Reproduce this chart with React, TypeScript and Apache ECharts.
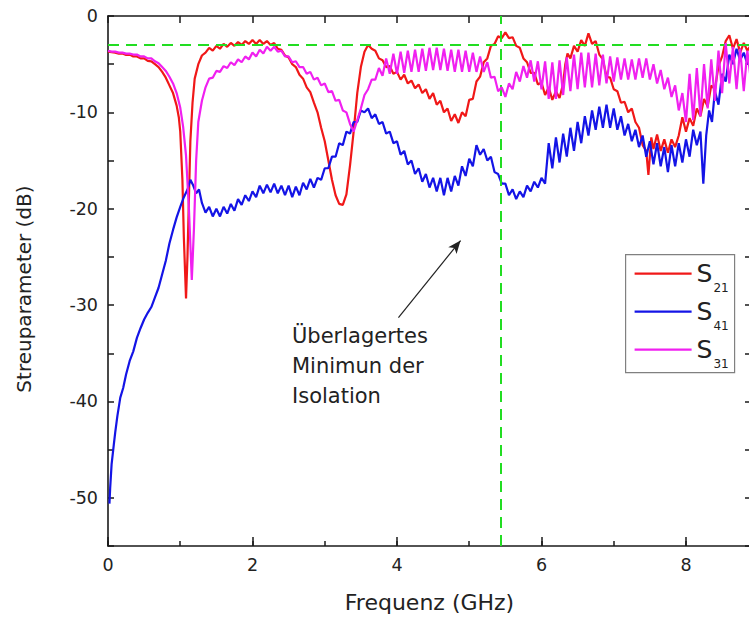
import React, { useEffect, useRef } from 'react';
import * as echarts from 'echarts';

// ---------- data ----------
const seriesNames = ['S21', 'S41', 'S31'];
const seriesSubscripts = ['21', '41', '31'];
const seriesColors = ['#f01818', '#1414e6', '#f020f0'];

// S21 (red): [frequency GHz, dB]
const s21Data: [number, number][] = [
  [0, -3.7], [0.05, -3.75], [0.1, -3.8], [0.15, -3.9], [0.2, -3.9], [0.25, -4.05], [0.3, -4.0], [0.35, -4.2], [0.4, -4.2],
  [0.45, -4.4], [0.5, -4.4], [0.55, -4.65], [0.6, -4.7], [0.65, -5.0], [0.7, -5.3], [0.75, -5.8], [0.8, -6.4], [0.85, -7.2],
  [0.9, -8.0], [0.95, -9.3], [0.98, -10.5], [1.0, -12], [1.03, -17], [1.05, -23], [1.08, -29.3], [1.1, -25], [1.12, -19],
  [1.14, -13], [1.17, -9], [1.2, -6.5], [1.25, -5], [1.3, -4.1], [1.35, -3.8], [1.4, -3.3], [1.45, -3.6], [1.5, -3.1],
  [1.55, -3.4], [1.6, -2.9], [1.65, -3.2], [1.7, -2.8], [1.75, -3.1], [1.8, -2.7], [1.85, -3.0], [1.9, -2.6], [1.95, -2.9],
  [2.0, -2.5], [2.05, -2.9], [2.1, -2.5], [2.15, -2.9], [2.2, -2.6], [2.25, -3.0], [2.3, -2.8], [2.35, -3.4], [2.4, -3.5],
  [2.45, -4.1], [2.5, -4.3], [2.55, -5.0], [2.6, -5.3], [2.65, -6.1], [2.7, -6.5], [2.75, -7.4], [2.8, -7.9], [2.85, -9.0],
  [2.9, -10], [2.95, -11.6], [3.0, -13], [3.05, -15], [3.1, -17], [3.15, -18.6], [3.2, -19.5], [3.25, -19.6], [3.3, -18.5],
  [3.35, -15.5], [3.4, -12], [3.45, -8], [3.5, -5.3], [3.55, -3.7], [3.6, -3.0], [3.65, -3.4], [3.7, -3.6], [3.75, -4.4],
  [3.8, -4.6], [3.85, -5.3], [3.9, -5.2], [3.95, -6.0], [4.0, -5.8], [4.05, -6.6], [4.1, -6.1], [4.15, -7.0], [4.2, -6.7],
  [4.25, -7.5], [4.3, -7.1], [4.35, -8.0], [4.4, -7.6], [4.45, -8.6], [4.5, -8.0], [4.55, -9.2], [4.6, -8.8], [4.65, -10.0],
  [4.7, -9.6], [4.75, -10.9], [4.8, -10.2], [4.85, -11.1], [4.9, -10.0], [4.95, -10.4], [5.0, -8.7], [5.05, -8.6], [5.1, -6.8],
  [5.15, -6.3], [5.2, -4.8], [5.25, -4.4], [5.3, -3.1], [5.35, -2.9], [5.4, -2.1], [5.45, -2.3], [5.5, -1.7], [5.55, -2.3],
  [5.6, -2.2], [5.65, -3.1], [5.7, -3.3], [5.75, -4.4], [5.8, -4.8], [5.85, -5.9], [5.9, -5.9], [5.95, -7.1], [6.0, -6.9],
  [6.05, -8.2], [6.1, -7.4], [6.15, -8.7], [6.2, -7.8], [6.25, -8.5], [6.3, -7.0], [6.33, -5.0], [6.36, -3.9], [6.4, -4.4],
  [6.45, -3.1], [6.5, -3.7], [6.55, -2.5], [6.6, -3.1], [6.65, -1.8], [6.7, -2.9], [6.75, -2.6], [6.8, -4.0], [6.85, -4.5],
  [6.9, -6.3], [6.95, -6.4], [7.0, -7.6], [7.05, -7.8], [7.1, -9.0], [7.15, -8.9], [7.2, -10.0], [7.25, -9.6], [7.3, -11.0],
  [7.35, -11.6], [7.4, -13.4], [7.45, -14.0], [7.48, -16.5], [7.52, -12.6], [7.55, -13.8], [7.6, -12.3], [7.65, -14.0],
  [7.7, -12.8], [7.75, -14.2], [7.8, -12.8], [7.85, -13.6], [7.9, -12.4], [7.95, -10.5], [8.0, -12.0], [8.05, -10.6],
  [8.1, -11.4], [8.15, -9.6], [8.2, -10.4], [8.25, -8.6], [8.3, -9.4], [8.35, -7.2], [8.4, -7.6], [8.45, -5.2], [8.5, -4.2],
  [8.55, -2.6], [8.6, -2.0], [8.65, -3.4], [8.7, -2.4], [8.75, -3.8], [8.8, -2.8], [8.85, -3.6], [8.9, -3.0],
];

// S41 (blue)
const s41Data: [number, number][] = [
  [0.02, -50.6], [0.03, -49], [0.05, -46.5], [0.08, -44.5], [0.1, -43.2], [0.13, -41.5], [0.17, -39.6], [0.21, -38.6],
  [0.25, -37.2], [0.3, -35.8], [0.35, -34.8], [0.4, -33.4], [0.45, -32.4], [0.5, -31.5], [0.55, -30.8], [0.6, -30.2],
  [0.65, -29.2], [0.7, -28.2], [0.75, -26.8], [0.8, -25.4], [0.85, -23.6], [0.9, -22.2], [0.95, -20.9], [1.0, -19.8],
  [1.05, -18.8], [1.1, -18.0], [1.14, -17.0], [1.18, -17.6], [1.22, -18.4], [1.26, -18.0], [1.3, -19.4], [1.35, -20.4],
  [1.4, -19.8], [1.45, -20.8], [1.5, -20.0], [1.55, -20.8], [1.6, -19.8], [1.65, -20.5], [1.7, -19.5], [1.75, -20.2],
  [1.8, -19.0], [1.85, -19.6], [1.9, -18.6], [1.95, -19.2], [2.0, -18.2], [2.05, -18.8], [2.1, -17.6], [2.15, -18.4],
  [2.2, -17.5], [2.25, -18.3], [2.3, -17.4], [2.35, -18.4], [2.4, -17.6], [2.45, -18.6], [2.5, -17.6], [2.55, -18.8],
  [2.6, -17.7], [2.65, -18.6], [2.7, -17.3], [2.75, -18.0], [2.8, -16.9], [2.85, -17.8], [2.9, -16.8], [2.95, -17.0],
  [3.0, -15.8], [3.05, -15.8], [3.1, -14.6], [3.15, -14.6], [3.2, -13.2], [3.25, -13.4], [3.3, -12.0], [3.35, -12.2],
  [3.4, -11.0], [3.45, -11.0], [3.5, -9.8], [3.55, -10.0], [3.6, -9.6], [3.65, -10.6], [3.7, -10.2], [3.75, -11.2],
  [3.8, -11.0], [3.85, -12.2], [3.9, -12.0], [3.95, -13.2], [4.0, -13.0], [4.05, -14.4], [4.1, -14.0], [4.15, -15.4],
  [4.2, -15.0], [4.25, -16.4], [4.3, -15.8], [4.35, -17.2], [4.4, -16.4], [4.45, -17.8], [4.5, -16.8], [4.55, -18.2],
  [4.6, -16.8], [4.65, -18.6], [4.7, -16.8], [4.75, -18.2], [4.8, -16.6], [4.85, -17.6], [4.9, -15.6], [4.95, -16.6],
  [5.0, -14.8], [5.05, -15.6], [5.1, -13.4], [5.15, -14.4], [5.2, -13.8], [5.25, -15.0], [5.3, -14.6], [5.35, -16.2],
  [5.4, -16.4], [5.45, -17.4], [5.5, -17.4], [5.55, -18.6], [5.6, -18.0], [5.65, -19.0], [5.7, -18.2], [5.75, -18.8],
  [5.8, -17.6], [5.85, -18.2], [5.9, -17.2], [5.95, -17.8], [6.0, -16.8], [6.05, -17.4], [6.1, -13.2], [6.15, -15.8],
  [6.2, -12.6], [6.25, -15.2], [6.3, -12.2], [6.35, -14.6], [6.4, -11.6], [6.45, -14.0], [6.5, -11.0], [6.55, -13.2],
  [6.6, -10.4], [6.65, -12.4], [6.7, -9.8], [6.75, -11.8], [6.8, -9.4], [6.85, -11.6], [6.9, -9.2], [6.95, -11.6],
  [7.0, -9.6], [7.05, -11.8], [7.1, -10.4], [7.15, -12.4], [7.2, -11.2], [7.25, -13.0], [7.3, -11.8], [7.35, -13.6],
  [7.4, -12.4], [7.45, -14.6], [7.5, -13.0], [7.55, -15.4], [7.6, -13.2], [7.65, -15.6], [7.7, -13.6], [7.75, -16.2],
  [7.8, -13.4], [7.85, -15.6], [7.9, -13.2], [7.95, -15.2], [8.0, -12.8], [8.05, -14.6], [8.1, -11.8], [8.15, -13.4],
  [8.2, -12.0], [8.24, -17.4], [8.28, -12.4], [8.32, -9.8], [8.36, -11.0], [8.4, -7.8], [8.45, -9.2], [8.5, -6.0],
  [8.55, -6.8], [8.6, -4.0], [8.65, -5.0], [8.7, -3.4], [8.75, -4.6], [8.8, -3.8], [8.85, -5.0], [8.9, -4.4],
];

// S31 (magenta)
const s31Data: [number, number][] = [
  [0, -3.6], [0.05, -3.7], [0.1, -3.7], [0.15, -3.8], [0.2, -3.8], [0.25, -3.9], [0.3, -3.9], [0.35, -4.0], [0.4, -4.0],
  [0.45, -4.2], [0.5, -4.2], [0.55, -4.4], [0.6, -4.4], [0.65, -4.7], [0.7, -4.9], [0.75, -5.3], [0.8, -5.7], [0.85, -6.3],
  [0.9, -7.0], [0.95, -8.0], [1.0, -9.5], [1.04, -11.5], [1.08, -14.5], [1.12, -20], [1.16, -27.4], [1.19, -22], [1.22, -15],
  [1.25, -11], [1.3, -8.8], [1.35, -7.4], [1.4, -6.5], [1.45, -6.4], [1.5, -5.7], [1.55, -5.8], [1.6, -5.2], [1.65, -5.4],
  [1.7, -4.8], [1.75, -5.1], [1.8, -4.5], [1.85, -4.8], [1.9, -4.2], [1.95, -4.5], [2.0, -3.8], [2.05, -4.2], [2.1, -3.5],
  [2.15, -3.9], [2.2, -3.2], [2.25, -3.6], [2.3, -3.2], [2.35, -3.7], [2.4, -3.6], [2.45, -4.2], [2.5, -4.2], [2.55, -4.8],
  [2.6, -4.7], [2.65, -5.3], [2.7, -5.3], [2.75, -6.0], [2.8, -5.8], [2.85, -6.6], [2.9, -6.4], [2.95, -7.2], [3.0, -7.0],
  [3.05, -7.9], [3.1, -7.8], [3.15, -8.8], [3.2, -8.7], [3.25, -9.8], [3.3, -10.0], [3.35, -11.2], [3.4, -12.0], [3.45, -10.8],
  [3.5, -9.6], [3.55, -8.2], [3.6, -7.6], [3.65, -6.6], [3.7, -6.6], [3.75, -5.4], [3.8, -6.2], [3.85, -4.4], [3.9, -6.0],
  [3.95, -3.9], [4.0, -6.0], [4.05, -3.7], [4.1, -5.9], [4.15, -3.6], [4.2, -5.8], [4.25, -3.5], [4.3, -5.8], [4.35, -3.4],
  [4.4, -5.7], [4.45, -3.3], [4.5, -5.6], [4.55, -3.3], [4.6, -5.6], [4.65, -3.4], [4.7, -5.7], [4.75, -3.5], [4.8, -5.8],
  [4.85, -3.5], [4.9, -5.8], [4.95, -3.6], [5.0, -5.8], [5.05, -3.8], [5.1, -5.8], [5.15, -4.2], [5.2, -5.8], [5.25, -4.8],
  [5.3, -6.4], [5.35, -6.3], [5.4, -7.8], [5.45, -7.4], [5.5, -8.4], [5.55, -7.0], [5.6, -7.6], [5.65, -5.8], [5.7, -6.8],
  [5.75, -5.2], [5.8, -6.4], [5.85, -4.6], [5.9, -6.8], [5.95, -4.7], [6.0, -7.6], [6.05, -4.7], [6.1, -8.6], [6.15, -4.8],
  [6.2, -8.6], [6.25, -4.6], [6.3, -8.2], [6.35, -4.3], [6.4, -7.8], [6.45, -4.0], [6.5, -7.6], [6.55, -3.8], [6.6, -7.4],
  [6.65, -3.8], [6.7, -7.4], [6.75, -3.9], [6.8, -7.2], [6.85, -4.0], [6.9, -7.0], [6.95, -4.2], [7.0, -6.8], [7.05, -4.3],
  [7.1, -6.6], [7.15, -4.4], [7.2, -6.6], [7.25, -4.5], [7.3, -6.6], [7.35, -4.4], [7.4, -6.4], [7.45, -4.4], [7.5, -6.6],
  [7.55, -5.0], [7.6, -7.0], [7.65, -5.6], [7.7, -7.6], [7.75, -6.4], [7.8, -8.4], [7.85, -7.2], [7.9, -9.8], [7.95, -8.0],
  [8.0, -11.0], [8.05, -6.0], [8.1, -10.8], [8.15, -5.4], [8.2, -10.4], [8.25, -5.0], [8.3, -9.6], [8.35, -4.5], [8.4, -8.8],
  [8.45, -3.6], [8.5, -8.0], [8.55, -2.8], [8.6, -7.0], [8.65, -3.2], [8.7, -7.6], [8.75, -3.4], [8.8, -7.8], [8.85, -3.6],
  [8.9, -6.8],
];

const seriesData = [s21Data, s41Data, s31Data];

// reference markers
const markerFreqGHz = 5.44;
const markerLevelDb = -3;
const arrowStart: [number, number] = [4.02, -31.3];
const arrowEnd: [number, number] = [4.88, -23.3];
const annotationLines = ['Überlagertes', 'Minimun der', 'Isolation'];

// axes
const xMin = 0;
const xMax = 8.9;
const yMin = -55;
const yMax = 0;
const xTitle = 'Frequenz (GHz)';
const yTitle = 'Streuparameter (dB)';

const FONT = 'DejaVu Sans';
const AXIS_COLOR = '#1a1a1a';

export default function App() {
  const ref = useRef<HTMLDivElement>(null);

  useEffect(() => {
    if (!ref.current) return;
    const chart = echarts.init(ref.current, undefined, { renderer: 'svg' });

    const baseX = {
      type: 'value' as const,
      min: xMin,
      max: xMax,
      splitLine: { show: false },
    };
    const baseY = {
      type: 'value' as const,
      min: yMin,
      max: yMax,
      interval: 5,
      splitLine: { show: false },
    };

    const drawOrder = [2, 0, 1];
    const series: any[] = drawOrder.map((i) => ({
      name: seriesNames[i],
      type: 'line',
      data: seriesData[i],
      xAxisIndex: 0,
      yAxisIndex: 0,
      symbol: 'none',
      showSymbol: false,
      silent: true,
      lineStyle: { color: seriesColors[i], width: 2.2 },
      itemStyle: { color: seriesColors[i] },
      z: 3 + i,
    }));

    series[0].markLine = {
      silent: true,
      symbol: ['none', 'none'],
      label: { show: false },
      animation: false,
      data: [
        { xAxis: markerFreqGHz, lineStyle: { color: '#22dd22', width: 2, type: [11, 7] } },
        { yAxis: markerLevelDb, lineStyle: { color: '#22dd22', width: 2, type: [11, 7] } },
        [
          { coord: arrowStart, symbol: 'none', lineStyle: { color: '#222', width: 1.2, type: 'solid' } },
          { coord: arrowEnd, symbol: 'arrow', symbolSize: [8, 13] },
        ],
      ],
    };

    const legendChildren: any[] = [
      {
        type: 'rect',
        shape: { x: 0, y: 0, width: 109, height: 118 },
        style: { fill: '#fff', stroke: '#808080', lineWidth: 1.2 },
      },
    ];
    seriesNames.forEach((name, i) => {
      const ly = 19 + i * 38;
      legendChildren.push({
        type: 'line',
        shape: { x1: 9, y1: ly, x2: 66, y2: ly },
        style: { stroke: seriesColors[i], lineWidth: 2.2 },
      });
      legendChildren.push({
        type: 'text',
        x: 71,
        y: ly + 4,
        style: {
          text: `{s|${name.charAt(0)}}{b|${seriesSubscripts[i]}}`,
          verticalAlign: 'middle',
          align: 'left',
          rich: {
            s: { fontSize: 25, fontFamily: FONT, fill: '#222', verticalAlign: 'bottom', padding: [0, 1, 8, 0] },
            b: { fontSize: 12, fontFamily: FONT, fill: '#222', verticalAlign: 'bottom' },
          },
        },
      });
    });

    const option: any = {
      animation: false,
      backgroundColor: '#ffffff',
      grid: {
        left: 108,
        top: 16,
        width: 643,
        height: 530,
        containLabel: false,
        outerBoundsMode: 'none',
      },
      xAxis: [
        {
          ...baseX,
          position: 'bottom',
          interval: 2,
          axisLine: { onZero: false, lineStyle: { color: AXIS_COLOR, width: 1.6 } },
          axisTick: { inside: true, length: 9, lineStyle: { color: AXIS_COLOR, width: 1.5 } },
          axisLabel: {
            formatter: (v: number) => (Math.abs(v % 2) < 1e-9 ? String(v) : ''),
            fontSize: 17.5,
            fontFamily: FONT,
            color: '#222',
            margin: 10,
          },
          name: xTitle,
          nameLocation: 'middle',
          nameGap: 45,
          nameTextStyle: { fontSize: 22, fontFamily: FONT, color: '#222' },
        },
        {
          ...baseX,
          position: 'bottom',
          interval: 1,
          axisLine: { show: false, onZero: false },
          axisTick: { inside: true, length: 5, lineStyle: { color: AXIS_COLOR, width: 1.5 } },
          axisLabel: { show: false },
        },
        {
          ...baseX,
          position: 'top',
          interval: 1,
          axisLine: { onZero: false, lineStyle: { color: AXIS_COLOR, width: 1.6 } },
          axisTick: { inside: true, length: 7, lineStyle: { color: AXIS_COLOR, width: 1.5 } },
          axisLabel: { show: false },
        },
      ],
      yAxis: [
        {
          ...baseY,
          position: 'left',
          axisLine: { onZero: false, lineStyle: { color: AXIS_COLOR, width: 1.6 } },
          axisTick: { inside: true, length: 6, lineStyle: { color: AXIS_COLOR, width: 1.5 } },
          axisLabel: {
            formatter: (v: number) => (Math.abs(v % 10) < 1e-9 ? String(v) : ''),
            fontSize: 17.5,
            fontFamily: FONT,
            color: '#222',
            margin: 10,
          },
          name: yTitle,
          nameLocation: 'middle',
          nameRotate: 90,
          nameGap: 74,
          nameTextStyle: { fontSize: 20, fontFamily: FONT, color: '#222', padding: [0, 16, 0, 0] },
        },
        {
          ...baseY,
          position: 'right',
          axisLine: { onZero: false, lineStyle: { color: AXIS_COLOR, width: 1.6 } },
          axisTick: { inside: true, length: 6, lineStyle: { color: AXIS_COLOR, width: 1.5 } },
          axisLabel: { show: false },
        },
      ],
      series,
      graphic: [
        { type: 'group', left: 625, top: 254, children: legendChildren, z: 50 },
        {
          type: 'text',
          left: 292,
          top: 321,
          z: 50,
          style: {
            text: annotationLines.join('\n'),
            fontSize: 21,
            lineHeight: 30,
            fontFamily: FONT,
            fill: '#222',
          },
        },
      ],
    };

    chart.setOption(option);
    return () => chart.dispose();
  }, []);

  return (
    <div
      ref={ref}
      style={{ position: 'fixed', left: 0, top: 0, width: 749, height: 618, background: '#fff' }}
    />
  );
}
